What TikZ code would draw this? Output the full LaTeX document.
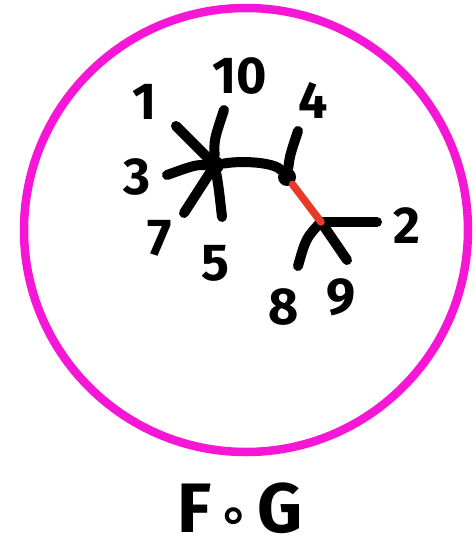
\documentclass[tikz,border=0pt]{standalone}
\usepackage{fontspec}
\setmainfont{Fira Sans}
\newfontfamily\symfont{DejaVu Sans}
\usetikzlibrary{positioning,calc}
\definecolor{RingPink}{HTML}{F516D6}
\definecolor{CutRed}{HTML}{E8392A}

\begin{document}
\begin{tikzpicture}[
	x=1pt, y=-1pt,
	ring/.style={draw=RingPink, line width=8.5pt},
	branch/.style={draw, line width=10pt, line cap=round},
	cut/.style={draw=CutRed, line width=7.5pt, line cap=round},
	hub/.style={circle, fill, inner sep=0pt, minimum size=18pt},
	tag/.style={font=\fontsize{52}{52}\selectfont\bfseries, inner sep=0pt}
]
\useasboundingbox (0,0) rectangle (475,557);
\draw[ring] (246,230) circle[radius=222];

% inner vertices
\node[hub] (a) at (215,165) {};
\node[hub] (b) at (287,177) {};
\coordinate (c) at (321,222);

% leaf ends
\coordinate (e1) at (176,126);
\coordinate (e3) at (167,175);
\coordinate (e10) at (224,110);
\coordinate (e7) at (184,213);
\coordinate (e5) at (222,217);
\coordinate (e4) at (298,131);
\coordinate (e2) at (377,222);
\coordinate (e8) at (298,266);
\coordinate (e9) at (347,260);

\draw[branch] (a) -- (e1);
\draw[branch] (a) .. controls (195,165) .. (e3);
\draw[branch] (a) .. controls (214,140) .. (e10);
\draw[branch] (a) -- (e7);
\draw[branch] (a) .. controls (219,190) .. (e5);
\draw[branch] (a) .. controls (245,160) and (275,163) .. (b);
\draw[branch] (b) .. controls (290,155) .. (e4);
\draw[branch] (c) -- (e2);
\draw[branch] (c) .. controls (306,238) .. (e8);
\draw[branch] (c) -- (e9);
\draw[cut] (b) -- (c);

% labels
\node[tag] (l1) at (145,102) {1};
\node[tag] (l10) at (240,76) {10};
\node[tag] (l4) at (313,100) {4};
\node[tag] (l3) at (137,177) {3};
\node[tag] (l7) at (160,238) {7};
\node[tag] (l5) at (215,263) {5};
\node[tag] (l2) at (407,226) {2};
\node[tag] (l8) at (284,307) {8};
\node[tag] (l9) at (341,297) {9};

\node[font=\fontsize{70}{70}\selectfont\bfseries, inner sep=0pt, anchor=base] (title) at (240,532) {F\hspace{6pt}{\symfont\fontsize{52}{52}\selectfont ∘}\hspace{8pt}G};
\end{tikzpicture}
\end{document}
